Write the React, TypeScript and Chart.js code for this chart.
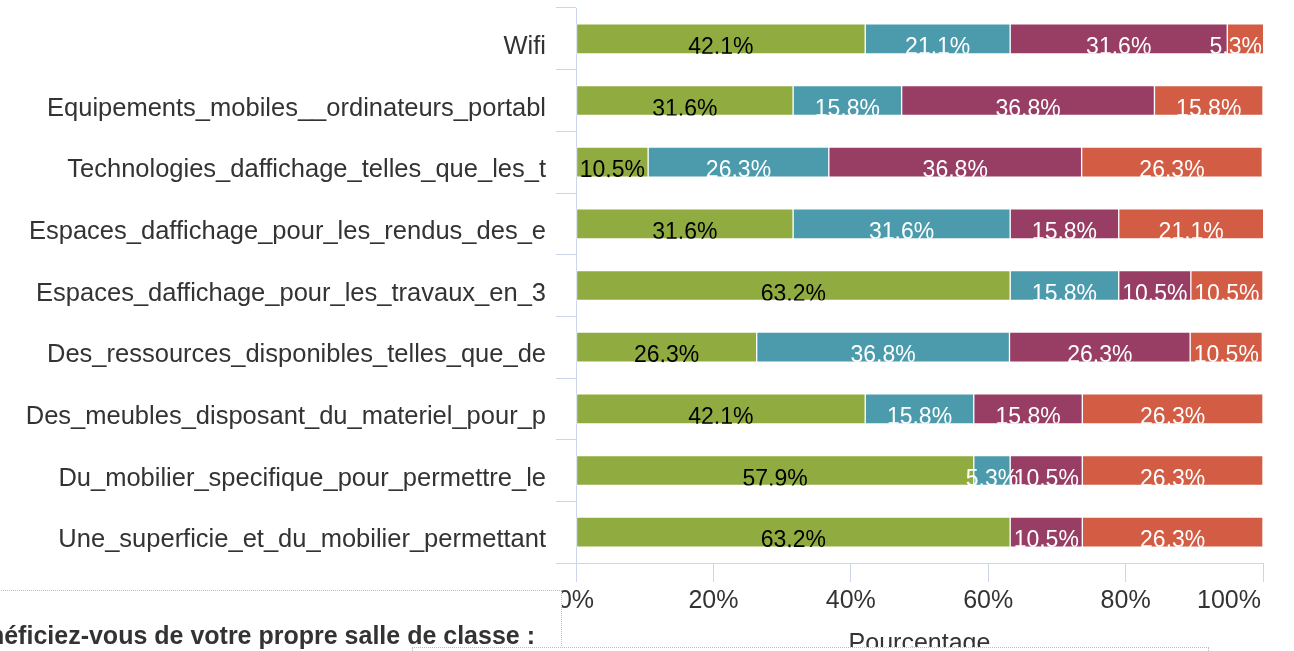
import React, { useEffect, useRef } from 'react';
import { Chart, registerables } from 'chart.js';

Chart.register(...registerables);

const categories = [
  'Wifi',
  'Equipements_mobiles__ordinateurs_portabl',
  'Technologies_daffichage_telles_que_les_t',
  'Espaces_daffichage_pour_les_rendus_des_e',
  'Espaces_daffichage_pour_les_travaux_en_3',
  'Des_ressources_disponibles_telles_que_de',
  'Des_meubles_disposant_du_materiel_pour_p',
  'Du_mobilier_specifique_pour_permettre_le',
  'Une_superficie_et_du_mobilier_permettant',
];

const seriesNames = ['Série 1', 'Série 2', 'Série 3', 'Série 4'];
const greenValues = [42.1, 31.6, 10.5, 31.6, 63.2, 26.3, 42.1, 57.9, 63.2];
const tealValues = [21.1, 15.8, 26.3, 31.6, 15.8, 36.8, 15.8, 5.3, 0];
const purpleValues = [31.6, 36.8, 36.8, 15.8, 10.5, 26.3, 15.8, 10.5, 10.5];
const orangeValues = [5.3, 15.8, 26.3, 21.1, 10.5, 10.5, 26.3, 26.3, 26.3];

const seriesColors = ['#90ac40', '#4c9bad', '#983e65', '#d25c44'];
const labelColors = ['#000000', '#ffffff', '#ffffff', '#ffffff'];
const decimalSeparators = [',', '.', '.', '.'];

const xTickValues = [0, 20, 40, 60, 80, 100];
const xTitle = 'Pourcentage';
const pageText = 'Bénéficiez-vous de votre propre salle de classe :';

const FONT = '"Liberation Sans", Arial, Helvetica, sans-serif';
const AXIS_COLOR = '#ccd6eb';

const segmentLabelPlugin = {
  id: 'segmentLabels',
  afterDatasetsDraw(chart: any) {
    const ctx = chart.ctx;
    const area = chart.chartArea;
    chart.data.datasets.forEach((ds: any, di: number) => {
      const meta = chart.getDatasetMeta(di);
      if (meta.hidden) return;
      meta.data.forEach((bar: any, i: number) => {
        const v = ds.data[i];
        if (!v) return;
        const { x, y, base, height } = bar.getProps(['x', 'y', 'base', 'height'], true);
        const text = v.toFixed(1).replace('.', decimalSeparators[di]) + '%';
        ctx.save();
        ctx.font = '23px ' + FONT;
        const w = ctx.measureText(text).width;
        let cx = (x + base) / 2;
        if (cx + w / 2 > area.right - 1) cx = area.right - 1 - w / 2;
        ctx.beginPath();
        ctx.rect(area.left, y - height / 2, area.right - area.left, height);
        ctx.clip();
        ctx.fillStyle = labelColors[di];
        ctx.textAlign = 'center';
        ctx.textBaseline = 'alphabetic';
        ctx.fillText(text, cx, y + height / 2);
        ctx.restore();
      });
    });
  },
};

const edgeTickPlugin = {
  id: 'edgeTick',
  beforeDraw(chart: any) {
    const scale = chart.scales.x;
    const items = scale.getLabelItems(chart.chartArea);
    const last = items[items.length - 1];
    if (last) {
      last.options.textAlign = 'right';
      last.options.translation = [chart.chartArea.right - 2, last.options.translation[1]];
    }
  },
};

export default function App() {
  const canvasRef = useRef<HTMLCanvasElement | null>(null);

  useEffect(() => {
    if (!canvasRef.current) return;
    const valueSets = [greenValues, tealValues, purpleValues, orangeValues];
    const chart = new Chart(canvasRef.current, {
      type: 'bar',
      data: {
        labels: categories,
        datasets: valueSets.map((vals, k) => ({
          label: seriesNames[k],
          data: vals,
          backgroundColor: seriesColors[k],
          borderColor: 'rgba(255,255,255,0.45)',
          borderWidth: 1,
          borderSkipped: false,
          barThickness: 30,
        })),
      },
      options: {
        indexAxis: 'y',
        animation: false,
        responsive: false,
        devicePixelRatio: 1,
        layout: { padding: { top: 8, right: 31, left: 0, bottom: 0 } },
        plugins: {
          legend: { display: false },
          tooltip: { enabled: false },
        },
        scales: {
          x: {
            type: 'linear',
            stacked: true,
            min: 0,
            max: 100,
            afterBuildTicks: (scale: any) => {
              scale.ticks = xTickValues.map((v) => ({ value: v }));
            },
            afterFit: (scale: any) => {
              scale.height = 88;
              scale.paddingLeft = 0;
              scale.paddingRight = 0;
            },
            ticks: {
              callback: (v: any) => v + '%',
              font: { size: 25, family: FONT },
              color: '#333333',
              padding: 4,
              maxRotation: 0,
              autoSkip: false,
            },
            grid: {
              drawOnChartArea: false,
              drawTicks: true,
              tickLength: 19,
              color: AXIS_COLOR,
              lineWidth: 1,
            },
            border: { color: AXIS_COLOR, width: 1 },
            title: {
              display: true,
              text: xTitle,
              font: { size: 25, family: FONT },
              color: '#333333',
              padding: { top: 0, bottom: -8 },
            },
          },
          y: {
            type: 'category',
            stacked: true,
            offset: true,
            afterFit: (scale: any) => {
              scale.width = 576;
              scale.paddingTop = 0;
              scale.paddingBottom = 0;
            },
            ticks: {
              font: { size: 25.5, family: FONT },
              color: '#333333',
              padding: 10,
              labelOffset: 8,
              autoSkip: false,
            },
            grid: {
              offset: true,
              drawOnChartArea: false,
              drawTicks: true,
              tickLength: 20,
              color: AXIS_COLOR,
              lineWidth: 1,
            },
            border: { color: AXIS_COLOR, width: 1 },
          },
        },
      },
      plugins: [segmentLabelPlugin, edgeTickPlugin],
    } as any);
    return () => chart.destroy();
  }, []);

  const dotted = '1px dotted #bdbdbd';

  return (
    <div
      style={{
        position: 'fixed',
        left: 0,
        top: 0,
        width: 1294,
        height: 651,
        overflow: 'hidden',
        background: '#ffffff',
      }}
    >
      <canvas
        ref={canvasRef}
        width={1294}
        height={651}
        style={{ position: 'absolute', left: 0, top: 0, display: 'block' }}
      />
      <div
        style={{
          position: 'absolute',
          left: -2,
          top: 590,
          width: 564,
          height: 80,
          boxSizing: 'border-box',
          borderTop: dotted,
          borderRight: dotted,
          background: '#ffffff',
        }}
      />
      <div
        style={{
          position: 'absolute',
          left: 412,
          top: 647,
          width: 797,
          height: 20,
          boxSizing: 'border-box',
          borderTop: dotted,
          borderLeft: dotted,
          borderRight: dotted,
          background: '#ffffff',
        }}
      />
      <div
        style={{
          position: 'absolute',
          right: 759,
          top: 623,
          whiteSpace: 'nowrap',
          fontFamily: FONT,
          fontWeight: 'bold',
          fontSize: 25,
          lineHeight: '25px',
          color: '#333333',
        }}
      >
        {pageText}
      </div>
    </div>
  );
}
